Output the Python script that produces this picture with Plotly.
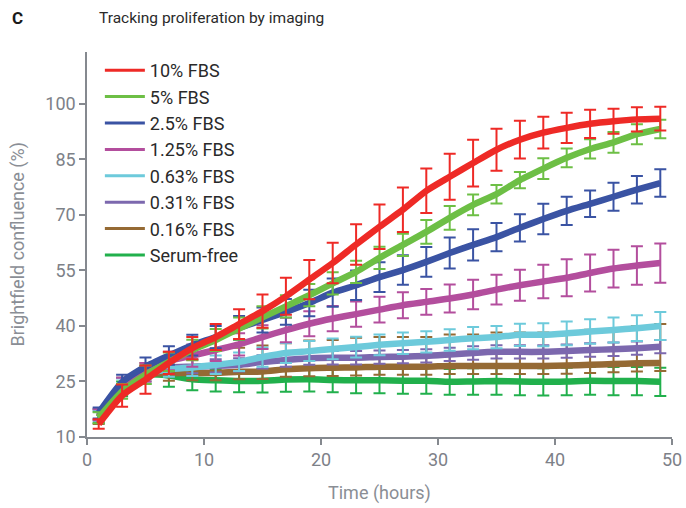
import plotly.graph_objects as go

# Sampling times (hours)
hours = [1, 3, 5, 7, 9, 11, 13, 15, 17, 19, 21, 23, 25, 27, 29, 31, 33, 35, 37, 39, 41, 43, 45, 47, 49]

# Mean brightfield confluence (%) per condition
fbs_10 = [13.5, 21.2, 25.5, 30.0, 34.0, 37.0, 40.5, 44.0, 48.0, 52.5, 57.0, 62.0, 66.8, 71.4, 76.5, 80.3, 84.0, 87.6, 90.3, 92.2, 93.5, 94.6, 95.3, 95.8, 96.0]
fbs_5 = [15.2, 22.3, 26.8, 30.3, 33.5, 36.2, 39.3, 42.3, 45.3, 48.3, 51.5, 54.6, 58.4, 61.9, 65.4, 69.2, 72.7, 75.6, 79.4, 82.5, 85.4, 87.8, 89.6, 91.8, 93.2]
fbs_2_5 = [16.5, 24.8, 29.0, 32.0, 34.8, 37.0, 39.5, 41.6, 43.8, 46.2, 49.0, 51.0, 53.2, 55.1, 57.3, 59.7, 61.9, 64.0, 66.5, 68.9, 71.1, 73.0, 74.9, 76.8, 78.6]
fbs_1_25 = [16.0, 24.0, 27.5, 30.5, 32.0, 33.5, 35.0, 37.0, 38.9, 40.6, 42.0, 43.2, 44.4, 45.6, 46.5, 47.4, 48.5, 49.8, 51.0, 52.0, 53.0, 54.3, 55.5, 56.3, 57.0]
fbs_0_63 = [15.8, 23.8, 27.0, 28.3, 28.8, 29.5, 30.3, 31.6, 32.7, 33.2, 33.8, 34.3, 34.9, 35.3, 35.7, 36.2, 36.7, 37.0, 37.6, 37.6, 38.0, 38.5, 38.9, 39.4, 40.0]
fbs_0_31 = [16.2, 24.2, 27.5, 28.8, 29.0, 29.2, 29.5, 30.3, 30.8, 31.3, 31.4, 31.4, 31.6, 31.7, 31.9, 32.3, 32.7, 33.0, 33.0, 33.0, 33.2, 33.5, 33.7, 34.0, 34.4]
fbs_0_16 = [15.5, 23.5, 27.0, 27.2, 27.3, 27.3, 27.6, 27.7, 28.3, 28.6, 28.7, 28.8, 29.0, 29.0, 29.0, 29.2, 29.2, 29.2, 29.2, 29.2, 29.3, 29.5, 29.7, 29.9, 30.0]
serum_free = [15.3, 23.0, 26.8, 26.6, 25.6, 25.3, 25.1, 25.2, 25.5, 25.6, 25.4, 25.3, 25.3, 25.2, 25.2, 24.9, 25.0, 25.1, 25.0, 24.9, 25.0, 25.2, 25.1, 25.1, 24.9]

# Error bar sizes (%)
err_10 = [1.3, 3.0, 3.8, 3.0, 3.0, 3.5, 4.0, 4.5, 5.0, 5.3, 5.5, 5.5, 6.0, 6.0, 6.0, 6.2, 6.3, 5.7, 5.1, 4.3, 4.1, 3.8, 3.4, 3.3, 3.2]
err_5 = [1.5, 2.0, 2.5, 2.5, 2.8, 3.0, 3.0, 3.0, 3.0, 3.0, 3.0, 3.0, 3.0, 3.0, 3.2, 3.2, 2.8, 2.5, 2.2, 2.8, 2.5, 2.6, 2.8, 2.7, 2.5]
err_2_5 = [1.5, 2.0, 2.5, 2.5, 2.8, 3.0, 3.2, 3.4, 3.5, 3.6, 3.8, 4.0, 4.0, 4.0, 4.0, 4.2, 4.2, 3.8, 3.7, 4.1, 3.8, 3.6, 3.8, 3.7, 3.7]
err_1_25 = [1.5, 2.0, 2.5, 2.5, 3.0, 3.0, 3.0, 3.2, 3.3, 3.4, 3.4, 3.4, 3.5, 3.5, 3.5, 3.8, 4.0, 4.0, 4.2, 4.5, 5.0, 5.0, 5.1, 5.2, 5.3]
err_0_63 = [1.5, 2.0, 2.0, 2.0, 2.3, 2.5, 2.5, 2.6, 2.7, 2.7, 2.8, 2.8, 2.8, 2.9, 2.9, 2.9, 3.0, 3.0, 3.0, 3.1, 3.2, 3.3, 3.4, 3.5, 3.8]
err_0_31 = [1.5, 1.8, 1.8, 1.8, 1.8, 1.8, 1.8, 1.8, 1.8, 1.8, 1.8, 1.8, 1.8, 1.8, 1.8, 1.8, 1.8, 1.8, 1.8, 1.8, 1.8, 1.8, 1.8, 1.8, 1.8]
err_0_16_up = [2.0, 2.5, 3.0, 4.0, 5.0, 6.0, 6.5, 7.0, 7.0, 7.5, 7.5, 8.0, 8.0, 8.0, 8.0, 8.5, 8.5, 9.0, 9.0, 9.0, 9.0, 9.5, 9.5, 10.0, 10.5]
err_0_16_down = [2.0, 2.0, 2.0, 2.0, 2.0, 2.0, 2.0, 2.0, 2.0, 2.2, 2.2, 2.2, 2.2, 2.2, 2.2, 2.2, 2.2, 2.2, 2.2, 2.2, 2.2, 2.2, 2.2, 2.2, 2.2]
err_sf = [1.5, 2.0, 2.5, 3.0, 3.0, 3.0, 3.0, 3.2, 3.3, 3.3, 3.3, 3.5, 3.5, 3.5, 3.5, 3.5, 3.6, 3.7, 3.7, 3.7, 3.7, 3.8, 3.8, 3.8, 3.8]

names = ["10% FBS", "5% FBS", "2.5% FBS", "1.25% FBS", "0.63% FBS", "0.31% FBS", "0.16% FBS", "Serum-free"]
colors = ["#ee2a26", "#6dbf45", "#3a53a3", "#b34e9d", "#6dcadb", "#7c68ae", "#956a34", "#21b04c"]
means = [fbs_10, fbs_5, fbs_2_5, fbs_1_25, fbs_0_63, fbs_0_31, fbs_0_16, serum_free]
err_plus = [err_10, err_5, err_2_5, err_1_25, err_0_63, err_0_31, err_0_16_up, err_sf]
err_minus = [err_10, err_5, err_2_5, err_1_25, err_0_63, err_0_31, err_0_16_down, err_sf]

fig = go.Figure()

# Data traces: lowest concentration first so the 10% curve sits on top
for name, color, y, ep, em in reversed(list(zip(names, colors, means, err_plus, err_minus))):
    fig.add_trace(go.Scatter(
        x=hours, y=y, mode="lines", name=name, showlegend=False,
        line=dict(color=color, width=6.5, shape="spline", smoothing=0.6),
        error_y=dict(type="data", symmetric=False, array=ep, arrayminus=em,
                     color=color, thickness=2, width=6),
    ))

# Legend entries with thinner line swatches
for name, color in zip(names, colors):
    fig.add_trace(go.Scatter(
        x=[None], y=[None], mode="lines", name=name, showlegend=True,
        line=dict(color=color, width=3),
    ))

axis_color = "#85898f"
tick_font = dict(family="Roboto", size=18, color="#7d8188")
title_font = dict(family="Roboto", size=18, color="#8a8e95")

fig.update_layout(
    width=686, height=508,
    margin=dict(l=87, r=14, t=52, b=71, autoexpand=False),
    paper_bgcolor="white", plot_bgcolor="white",
    font=dict(family="Roboto"),
    showlegend=True,
    legend=dict(
        x=0.022, y=1.0, xanchor="left", yanchor="top",
        bgcolor="rgba(0,0,0,0)", borderwidth=0,
        font=dict(family="Roboto", size=18, color="#2a2a2a"),
        tracegroupgap=0, itemwidth=40,
    ),
    xaxis=dict(
        range=[0, 50], tickvals=[0, 10, 20, 30, 40, 50],
        showline=True, linecolor=axis_color, linewidth=1.5,
        ticks="outside", ticklen=6, tickcolor=axis_color, tickwidth=1.5,
        showgrid=False, zeroline=False, tickfont=tick_font,
        ticklabeloverflow="allow", automargin=False,
    ),
    yaxis=dict(
        range=[10, 114], tickvals=[10, 25, 40, 55, 70, 85, 100],
        showline=True, linecolor=axis_color, linewidth=1.5,
        ticks="outside", ticklen=6, tickcolor=axis_color, tickwidth=1.5,
        showgrid=False, zeroline=False, tickfont=tick_font, automargin=False,
    ),
    annotations=[
        dict(text="<b>C</b>", xref="paper", yref="paper", x=-0.132, y=1.088,
             xanchor="left", yanchor="middle", showarrow=False,
             font=dict(family="Roboto", size=17, color="#1a1a1a")),
        dict(text="Tracking proliferation by imaging", xref="paper", yref="paper",
             x=0.017, y=1.088, xanchor="left", yanchor="middle", showarrow=False,
             font=dict(family="Roboto", size=15.5, color="#2a2a2a")),
        dict(text="Brightfield confluence (%)", xref="paper", yref="paper",
             x=-0.118, y=0.5, xanchor="center", yanchor="middle", textangle=-90,
             showarrow=False, font=title_font),
        dict(text="Time (hours)", xref="paper", yref="paper",
             x=0.5, y=-0.146, xanchor="center", yanchor="middle",
             showarrow=False, font=title_font),
    ],
)

fig.write_html("out.html")
